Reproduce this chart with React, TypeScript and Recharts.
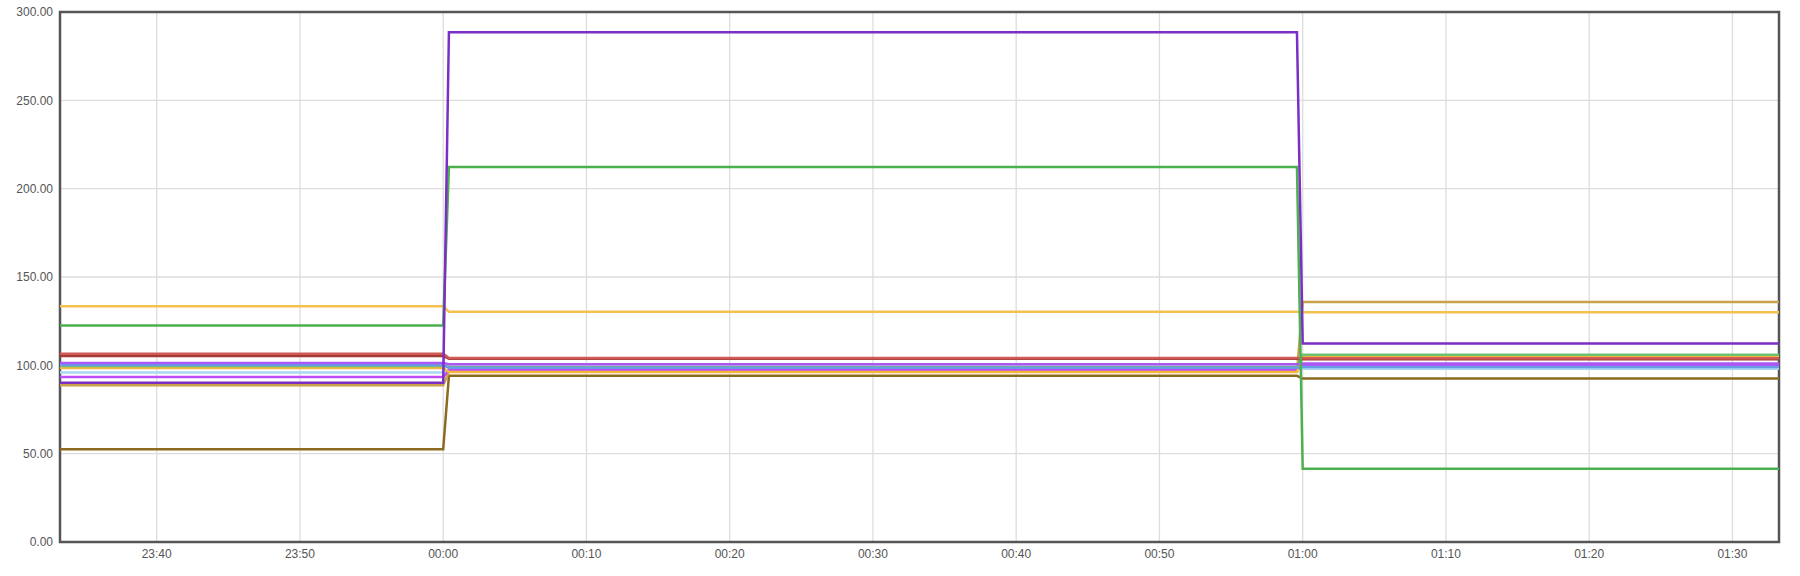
import { LineChart, Line, XAxis, YAxis, CartesianGrid, ReferenceArea } from 'recharts';

// minutes relative to 00:00 (negative = previous day)
const times = [-26.75, 0, 0.4, 59.6, 60, 93.25];
const xTicks = [-20, -10, 0, 10, 20, 30, 40, 50, 60, 70, 80, 90];
const yTicks = [0, 50, 100, 150, 200, 250, 300];

// each series: value before 00:00, between 00:00 and 01:00, after 01:00
const olive = [52.5, 94.1, 92.5];
const tan = [88.7, 96.3, 135.8];
const lightBlue = [95.9, 98.1, 98.1];
const magenta = [93.4, 97.2, 100.0];
const orange = [98.5, 96.2, 105.0];
const green2 = [99.6, 99.0, 106.0];
const blue = [100.2, 98.6, 99.0];
const violet = [101.3, 100.6, 101.0];
const darkRed = [105.3, 103.7, 103.4];
const red = [106.6, 104.2, 104.0];
const yellow = [133.4, 130.3, 130.1];
const green = [122.6, 212.3, 41.5];
const purple = [90.2, 288.5, 112.3];

const series = [
  { key: 'olive', color: '#8b6b1f', values: olive },
  { key: 'tan', color: '#c9a14a', values: tan },
  { key: 'lightBlue', color: '#a8d8f0', values: lightBlue },
  { key: 'magenta', color: '#bf4cf5', values: magenta },
  { key: 'orange', color: '#f5b73b', values: orange },
  { key: 'green2', color: '#6cc070', values: green2 },
  { key: 'blue', color: '#6a9be8', values: blue },
  { key: 'violet', color: '#a958f5', values: violet },
  { key: 'darkRed', color: '#a33a35', values: darkRed },
  { key: 'red', color: '#cf5b56', values: red },
  { key: 'yellow', color: '#f2c14e', values: yellow },
  { key: 'green', color: '#4caf50', values: green },
  { key: 'purple', color: '#7b2fc4', values: purple },
];

const data = times.map((t, i) => {
  const seg = i < 2 ? 0 : i < 4 ? 1 : 2;
  const row: Record<string, number> = { t };
  series.forEach((s) => {
    row[s.key] = s.values[seg];
  });
  return row;
});

function fmtTime(m: number): string {
  const total = ((Math.round(m) % 1440) + 1440) % 1440;
  const h = Math.floor(total / 60);
  const mm = total % 60;
  return `${String(h).padStart(2, '0')}:${String(mm).padStart(2, '0')}`;
}

const tickStyle = { fontSize: 12, fill: '#555', fontFamily: 'Liberation Sans, Arial, sans-serif' };

export default function App() {
  return (
    <div style={{ width: 1800, height: 576, background: '#fff' }}>
      <style>{'body{margin:0}'}</style>
      <LineChart
        width={1800}
        height={576}
        data={data}
        margin={{ top: 12, right: 21, bottom: 4, left: 0 }}
      >
        <CartesianGrid stroke="#dddddd" strokeWidth={1.3} />
        <XAxis
          dataKey="t"
          type="number"
          domain={[-26.75, 93.25]}
          ticks={xTicks}
          tickFormatter={fmtTime}
          tick={tickStyle}
          tickLine={false}
          axisLine={false}
          tickMargin={1}
          height={30}
          allowDataOverflow
        />
        <YAxis
          type="number"
          domain={[0, 300]}
          ticks={yTicks}
          tickFormatter={(v: number) => v.toFixed(2)}
          tick={tickStyle}
          tickLine={false}
          axisLine={false}
          tickMargin={1}
          width={60}
        />
        {series.map((s) => (
          <Line
            key={s.key}
            dataKey={s.key}
            stroke={s.color}
            strokeWidth={2.5}
            dot={false}
            type="linear"
            isAnimationActive={false}
          />
        ))}
        <ReferenceArea
          x1={-26.75}
          x2={93.25}
          y1={0}
          y2={300}
          fill="none"
          stroke="#555"
          strokeWidth={2.5}
          fillOpacity={0}
        />
      </LineChart>
    </div>
  );
}
